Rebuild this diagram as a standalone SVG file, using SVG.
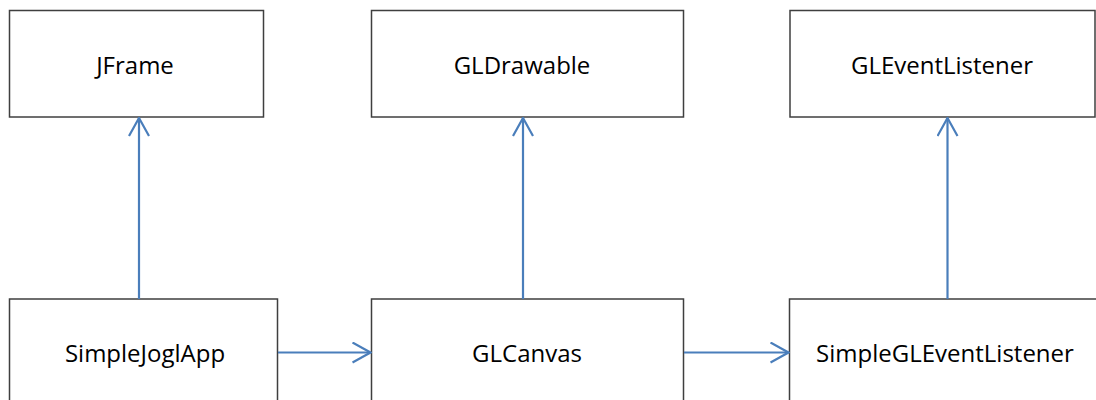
<svg xmlns="http://www.w3.org/2000/svg" width="1096" height="400" viewBox="0 0 1096 400">
<defs>
<style>
.box{fill:#fff;stroke:#3f3f3f;stroke-width:1.5}
.lbl{font-family:"Open Sans","Liberation Sans",sans-serif;font-size:24px;fill:#000;text-anchor:middle}
.conn{stroke:#4a7ebb;stroke-width:2.2;fill:none}
</style>
<marker id="arr" viewBox="0 0 20 22" refX="19" refY="11" markerWidth="20" markerHeight="22" markerUnits="userSpaceOnUse" orient="auto">
<path d="M1,1 L19,11 L1,21" fill="none" stroke="#4a7ebb" stroke-width="2.2"/>
</marker>
</defs>
<rect width="1096" height="400" fill="#fff"/>
<g id="JFrame"><rect class="box" x="9.5" y="10.5" width="254" height="106.5"/><text class="lbl" x="135" y="73.5">JFrame</text></g>
<g id="GLDrawable"><rect class="box" x="371.5" y="10.5" width="312" height="106.5"/><text class="lbl" x="522" y="73.5">GLDrawable</text></g>
<g id="GLEventListener"><rect class="box" x="790" y="10.5" width="305" height="106.5"/><text class="lbl" x="942" y="73.5">GLEventListener</text></g>
<g id="SimpleJoglApp"><rect class="box" x="9.5" y="299" width="268" height="110"/><text class="lbl" x="145" y="361.5">SimpleJoglApp</text></g>
<g id="GLCanvas"><rect class="box" x="371.5" y="299" width="312" height="110"/><text class="lbl" x="527" y="361.5">GLCanvas</text></g>
<g id="SimpleGLEventListener"><rect class="box" x="789.5" y="299" width="320" height="110"/><text class="lbl" x="945" y="361.5">SimpleGLEventListener</text></g>
<g id="connectors">
<line class="conn" x1="139" y1="299" x2="139" y2="118" marker-end="url(#arr)"/>
<line class="conn" x1="523" y1="299" x2="523" y2="118" marker-end="url(#arr)"/>
<line class="conn" x1="947.5" y1="299" x2="947.5" y2="118" marker-end="url(#arr)"/>
<line class="conn" x1="278" y1="352.5" x2="370.5" y2="352.5" marker-end="url(#arr)"/>
<line class="conn" x1="684" y1="352.5" x2="788.5" y2="352.5" marker-end="url(#arr)"/>
</g>
</svg>
